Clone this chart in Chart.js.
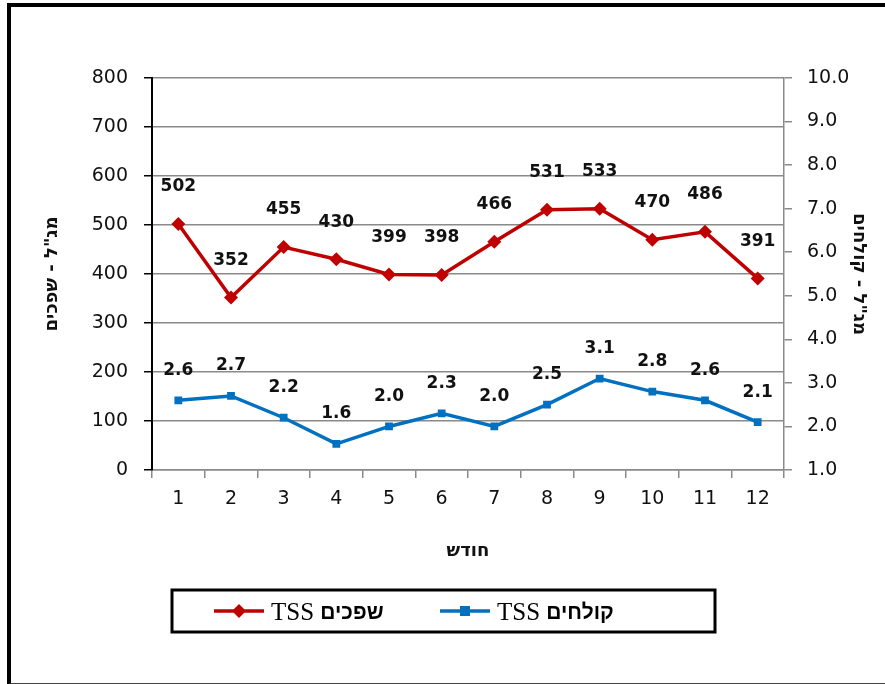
<!DOCTYPE html>
<html>
<head>
<meta charset="utf-8">
<script src="https://cdn.jsdelivr.net/npm/chart.js@4"></script>
<style>
  html, body { margin: 0; padding: 0; background: #fff; overflow: hidden; }
  #wrap { position: relative; width: 885px; height: 684px; overflow: hidden; }
  #frame {
    position: absolute; left: 7px; top: 3px; width: 900px; height: 676px;
    border-left: 4px solid #000; border-top: 4px solid #000; border-bottom: 2px solid #444;
    pointer-events: none;
  }
</style>
</head>
<body>
<div id="wrap">
  <canvas id="tssChart" width="885" height="684"></canvas>
  <div id="frame"></div>
</div>
<script>
// ---------------------------------------------------------------------------
// DONNÉES
// ---------------------------------------------------------------------------
const months = ["1", "2", "3", "4", "5", "6", "7", "8", "9", "10", "11", "12"];
const sewageTss = [502, 352, 455, 430, 399, 398, 466, 531, 533, 470, 486, 391];   // שפכים
const effluentTss = [2.6, 2.7, 2.2, 1.6, 2.0, 2.3, 2.0, 2.5, 3.1, 2.8, 2.6, 2.1]; // קולחים
const seriesNames = ["TSS שפכים", "TSS קולחים"];
const axisTitles = ["מג\"ל - שפכים", "מג\"ל - קולחים", "חודש"];

const RED = "#C00000";
const BLUE = "#0070C0";
const GRAY = "#8a8a8a";

// ---------------------------------------------------------------------------
// ÉTIQUETTES DE VALEURS AU-DESSUS DES POINTS
// ---------------------------------------------------------------------------
const valueLabels = {
    id: "valueLabels",
    afterDatasetsDraw(chart) {
        const ctx = chart.ctx;
        ctx.save();
        ctx.font = "bold 17px 'DejaVu Sans'";
        ctx.fillStyle = "#111";
        ctx.textAlign = "center";
        ctx.textBaseline = "middle";
        chart.data.datasets.forEach((ds, i) => {
            const meta = chart.getDatasetMeta(i);
            const lift = i === 0 ? 37 : 30;
            meta.data.forEach((pt, j) => {
                const v = ds.data[j];
                const txt = i === 0 ? String(v) : v.toFixed(1);
                ctx.fillText(txt, pt.x, pt.y - lift);
            });
        });
        ctx.restore();
    }
};

// ---------------------------------------------------------------------------
// LÉGENDE ENCADRÉE
// ---------------------------------------------------------------------------
const boxedLegend = {
    id: "boxedLegend",
    afterDraw(chart) {
        const ctx = chart.ctx;
        ctx.save();
        ctx.strokeStyle = "#000";
        ctx.lineWidth = 3;
        ctx.strokeRect(172, 590, 543, 42);

        const starts = [214, 440];
        const y = 611;
        chart.data.datasets.forEach((ds, i) => {
            const x0 = starts[i];
            ctx.strokeStyle = ds.borderColor;
            ctx.lineWidth = 3.5;
            ctx.beginPath();
            ctx.moveTo(x0, y);
            ctx.lineTo(x0 + 50, y);
            ctx.stroke();
            ctx.fillStyle = ds.borderColor;
            ctx.beginPath();
            if (ds.pointStyle === "rectRot") {
                ctx.moveTo(x0 + 25, y - 7);
                ctx.lineTo(x0 + 32, y);
                ctx.lineTo(x0 + 25, y + 7);
                ctx.lineTo(x0 + 18, y);
                ctx.closePath();
            } else {
                ctx.rect(x0 + 20, y - 5, 10, 10);
            }
            ctx.fill();

            const parts = ds.label.split(" ");
            ctx.fillStyle = "#000";
            ctx.textBaseline = "alphabetic";
            ctx.textAlign = "left";
            ctx.font = "25px 'Liberation Serif'";
            let tx = x0 + 57;
            ctx.fillText(parts[0], tx, y + 9);
            tx += ctx.measureText(parts[0] + " ").width;
            ctx.font = "bold 21px 'Liberation Sans'";
            ctx.fillText(parts.slice(1).join(" "), tx, y + 8);
        });
        ctx.restore();
    }
};

// ---------------------------------------------------------------------------
// CRÉATION DU GRAPHIQUE
// ---------------------------------------------------------------------------
const ctx = document.getElementById("tssChart").getContext("2d");

new Chart(ctx, {
    type: "line",
    data: {
        labels: months,
        datasets: [
            {
                label: seriesNames[0],
                data: sewageTss,
                yAxisID: "y",
                borderColor: RED,
                backgroundColor: RED,
                borderWidth: 3.5,
                pointStyle: "rectRot",
                pointRadius: 7,
                pointBorderWidth: 0,
                tension: 0
            },
            {
                label: seriesNames[1],
                data: effluentTss,
                yAxisID: "y1",
                borderColor: BLUE,
                backgroundColor: BLUE,
                borderWidth: 3.5,
                pointStyle: "rect",
                pointRadius: 5.5,
                pointBorderWidth: 0,
                tension: 0
            }
        ]
    },
    options: {
        responsive: false,
        animation: false,
        layout: { padding: { top: 78, left: 0, right: 0, bottom: 114 } },
        plugins: {
            legend: { display: false },
            tooltip: { enabled: false }
        },
        scales: {
            x: {
                offset: true,
                afterFit(scale) { scale.height = 100; },
                grid: {
                    offset: true,
                    drawOnChartArea: false,
                    tickLength: 8,
                    color: GRAY,
                    lineWidth: 1.5
                },
                border: { color: GRAY, width: 1.5 },
                ticks: {
                    color: "#111",
                    padding: 10,
                    font: { family: "DejaVu Sans", size: 19 }
                },
                title: {
                    display: true,
                    text: axisTitles[2],
                    color: "#111",
                    font: { family: "DejaVu Sans", size: 18, weight: "bold" },
                    padding: { top: 0, bottom: 8 }
                }
            },
            y: {
                position: "left",
                min: 0,
                max: 800,
                afterFit(scale) { scale.width = 152; },
                grid: {
                    color: GRAY,
                    lineWidth: 1.5,
                    tickLength: 8,
                    tickColor: "#000"
                },
                border: { color: "#000", width: 2 },
                ticks: {
                    stepSize: 100,
                    color: "#111",
                    padding: 16,
                    font: { family: "DejaVu Sans", size: 19 }
                },
                title: {
                    display: true,
                    text: axisTitles[0],
                    color: "#111",
                    font: { family: "DejaVu Sans", size: 18, weight: "bold" },
                    padding: { top: 42, bottom: 0 }
                }
            },
            y1: {
                position: "right",
                min: 1,
                max: 10,
                afterFit(scale) { scale.width = 101; },
                grid: {
                    drawOnChartArea: false,
                    tickLength: 8,
                    color: GRAY,
                    lineWidth: 1.5
                },
                border: { color: GRAY, width: 1.5 },
                ticks: {
                    stepSize: 1,
                    color: "#111",
                    padding: 15,
                    font: { family: "DejaVu Sans", size: 19 },
                    callback: v => v.toFixed(1)
                },
                title: {
                    display: true,
                    text: axisTitles[1],
                    color: "#111",
                    font: { family: "DejaVu Sans", size: 18, weight: "bold" },
                    padding: { top: 16, bottom: 0 }
                }
            }
        }
    },
    plugins: [valueLabels, boxedLegend]
});
</script>
</body>
</html>
